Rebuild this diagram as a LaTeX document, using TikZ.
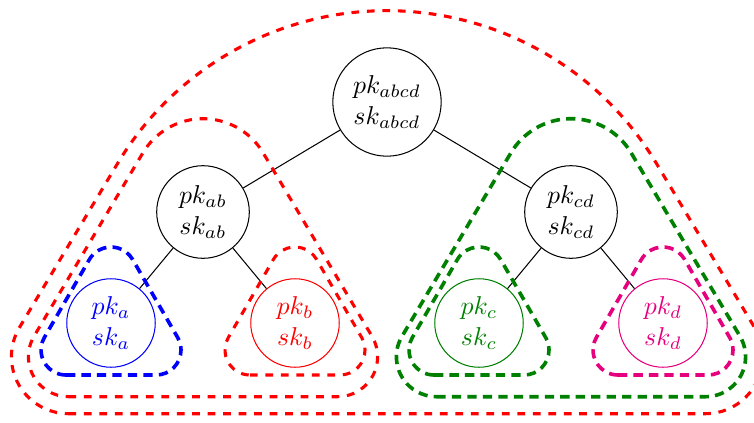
\documentclass[tikz,border=0pt]{standalone}
\usetikzlibrary{calc}
\definecolor{mgreen}{rgb}{0,0.5,0}
\definecolor{mmag}{RGB}{230,0,126}
% #1 style, #2 cx, #3 base-circle centre height, #4 half distance of base circles,
% #5 height of apex circle above base circles, #6 base radius, #7 apex radius
\newcommand\grouptri[7]{%
  \pgfmathsetmacro\gtphi{atan((#4)/(#5))+asin(((#6)-(#7))/(100*veclen((#4)/100,(#5)/100)))}%
  \pgfmathsetmacro\gtpsi{180-\gtphi}%
  \draw[#1] (#2-#4,#3-#6) -- (#2+#4,#3-#6)
     arc[start angle=-90, end angle=\gtphi, radius=#6]
     -- ($(#2,#3+#5)+(\gtphi:#7)$)
     arc[start angle=\gtphi, end angle=\gtpsi, radius=#7]
     -- ($(#2-#4,#3)+(\gtpsi:#6)$)
     arc[start angle=\gtpsi, end angle=270, radius=#6]
     -- cycle;
}
\tikzset{
  x=0.3876pt, y=0.3876pt,
  keynode/.style={circle, draw, inner sep=0pt, align=center},
  rootnode/.style={keynode, minimum size=42pt},
  midnode/.style={keynode, minimum size=35.9pt},
  leafnode/.style={keynode, minimum size=34.3pt},
  grp/.style={line width=1.2pt, dash pattern=on 3pt off 3pt},
  grpb/.style={line width=1.4pt, dash pattern=on 3.6pt off 2.4pt},
  edge/.style={draw=black}
}
\begin{document}
\begin{tikzpicture}
\useasboundingbox (0,0) rectangle (754,422);
\node[rootnode] (r) at (387,320) {$pk_{abcd}$\\$sk_{abcd}$};
\node[midnode] (ab) at (203,210) {$pk_{ab}$\\$sk_{ab}$};
\node[midnode] (cd) at (571,210) {$pk_{cd}$\\$sk_{cd}$};
\node[leafnode, blue] (a) at (111,99) {$pk_{a}$\\$sk_{a}$};
\node[leafnode, red] (b) at (295,99) {$pk_{b}$\\$sk_{b}$};
\node[leafnode, mgreen] (c) at (479,99) {$pk_{c}$\\$sk_{c}$};
\node[leafnode, mmag] (d) at (663,99) {$pk_{d}$\\$sk_{d}$};
\draw[edge] (r) -- (ab);
\draw[edge] (r) -- (cd);
\draw[edge] (ab) -- (a);
\draw[edge] (ab) -- (b);
\draw[edge] (cd) -- (c);
\draw[edge] (cd) -- (d);
\grouptri{grpb, blue}{111}{72}{45}{78}{25}{25}
\grouptri{grp, red}{295}{72}{45}{78}{25}{25}
\grouptri{grpb, mgreen}{479}{72}{45}{78}{25}{25}
\grouptri{grpb, mmag}{663}{72}{45}{78}{25}{25}
\grouptri{grp, red}{203}{65.3}{134.6}{168}{40}{70}
\grouptri{grpb, mgreen}{571}{65.3}{134.6}{168}{40}{70}
\grouptri{grp, red}{387}{65.3}{318.6}{32}{57}{314}
\end{tikzpicture}
\end{document}
